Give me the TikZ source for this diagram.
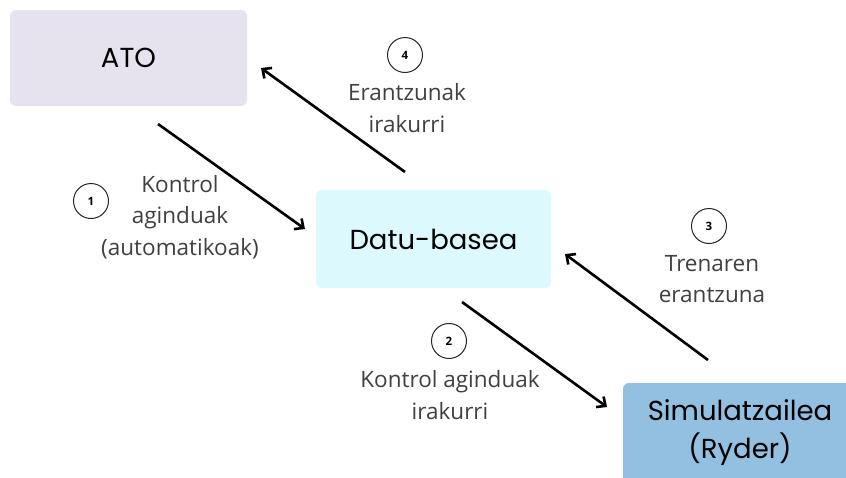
\documentclass[tikz,border=0pt]{standalone}
\usepackage{fontspec}
\setmainfont{Open Sans}
\newfontfamily\boxfont{Poppins}
\usetikzlibrary{arrows.meta}
\definecolor{atofill}{HTML}{E6E3EF}
\definecolor{dbfill}{HTML}{DCFAFD}
\definecolor{simfill}{HTML}{93C0E1}
\definecolor{labeltext}{HTML}{404040}
\tikzset{
  block/.style={rounded corners=6pt, inner sep=0pt, align=center,
    font=\boxfont\fontsize{27.5}{38}\selectfont, text=black},
  flow/.style={line width=2.6pt, -{Straight Barb[length=7pt,width=13pt,line width=2.6pt]}},
  stepnum/.style={circle, draw=black!85, line width=1pt, minimum size=35pt,
    inner sep=0pt, font=\bfseries\fontsize{11.5}{12}\selectfont},
  caption/.style={align=center, text=labeltext,
    font=\fontsize{22.5}{31.5}\selectfont}
}
\begin{document}
\begin{tikzpicture}[x=1pt,y=-1pt]
\useasboundingbox (0,0) rectangle (846,477);
\fill[white] (0,0) rectangle (846,477);

% boxes
\node[block, fill=atofill, minimum width=237pt, minimum height=96pt] (ato) at (128.5,58) {ATO};
\node[block, fill=dbfill, minimum width=235pt, minimum height=98pt] (db) at (433.5,239) {Datu-basea};
\node[block, fill=simfill, minimum width=234pt, minimum height=100pt] (sim) at (740,433) {Simulatzailea\\(Ryder)};

% arrow end points
\coordinate (a1s) at (158,124);
\coordinate (a1e) at (305,229);
\coordinate (a2s) at (462,302);
\coordinate (a2e) at (607,407);
\coordinate (a3s) at (708,360);
\coordinate (a3e) at (565,254);
\coordinate (a4s) at (405,172);
\coordinate (a4e) at (261,68);

\draw[flow] (a1s) -- (a1e);
\draw[flow] (a2s) -- (a2e);
\draw[flow] (a3s) -- (a3e);
\draw[flow] (a4s) -- (a4e);

% step numbers
\node[stepnum] (n1) at (91,201) {1};
\node[stepnum] (n2) at (449,341) {2};
\node[stepnum] (n3) at (709,226) {3};
\node[stepnum] (n4) at (405,55) {4};

% captions
\node[caption] (c1) at (180,217) {Kontrol\\aginduak\\(automatikoak)};
\node[caption] (c2) at (450,395) {Kontrol aginduak\\irakurri};
\node[caption] (c3) at (712,279) {Trenaren\\erantzuna};
\node[caption] (c4) at (407,108) {Erantzunak\\irakurri};
\end{tikzpicture}
\end{document}
